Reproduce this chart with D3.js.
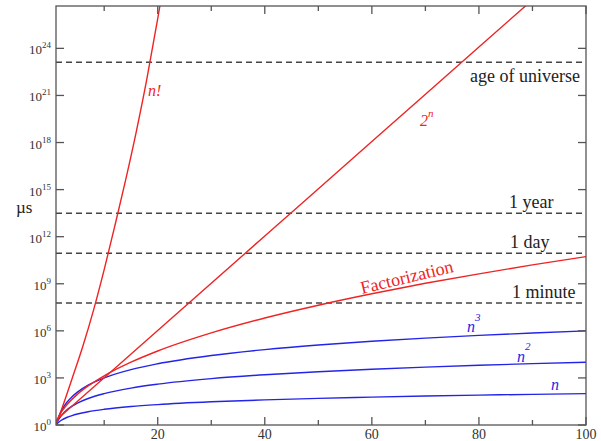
<!DOCTYPE html>
<html>
<head>
<meta charset="utf-8">
<script src="https://cdn.jsdelivr.net/npm/d3@7"></script>
<style>
    body { margin: 0; background: #fff; }
    svg { display: block; }
    svg text { font-family: "Liberation Serif", "Times New Roman", Times, "DejaVu Serif", serif; }
</style>
</head>
<body>
<svg id="chart" width="601" height="441"></svg>
<script>
// polynomial curves (n, n^2, n^3)
var polyX = [1, 1.2, 1.5, 2, 3, 4, 5, 7, 10, 15, 20, 30, 40, 50, 60, 70, 80, 90, 100];
var linearVal = [1, 1.2, 1.5, 2, 3, 4, 5, 7, 10, 15, 20, 30, 40, 50, 60, 70, 80, 90, 100];
var squareVal = [1, 1.44, 2.25, 4, 9, 16, 25, 49, 100, 225, 400, 900, 1600, 2500, 3600, 4900, 6400, 8100, 10000];
var cubeVal = [1, 1.728, 3.375, 8, 27, 64, 125, 343, 1000, 3375, 8000, 27000, 64000, 125000, 216000, 343000, 512000, 729000, 1000000];

// factorization (sub-exponential)
var factorX = [1, 1.2, 1.5, 2, 3, 5, 7, 10, 15, 20, 30, 40, 50, 60, 70, 80, 90, 100];
var factorVal = [1, 1.93, 3.3, 6.7, 19, 91, 310, 1370, 1.0e4, 5.2e4, 7.4e5, 6.6e6, 4.3e7, 2.3e8, 1.07e9, 4.3e9, 1.6e10, 5.4e10];

// 2^n
var expX = [1, 10, 20, 40, 60, 80, 90];
var expVal = [2, 1024, 1.05e6, 1.1e12, 1.15e18, 1.21e24, 1.24e27];

// n!
var factX = [1, 2, 4, 6, 8, 10, 12, 14, 16, 18, 20, 21];
var factVal = [1, 8.9, 890, 1e5, 2e7, 7.9e9, 5e12, 4e15, 5e18, 1.26e22, 7.9e25, 7.9e27];

// time limits (µs)
var limitNames = ['1 minute', '1 day', '1 year', 'age of universe'];
var limitVal = [6e7, 8.64e10, 3.15e13, 1.3e23];

var xTicks = [20, 40, 60, 80, 100];
var xMinor = [10, 30, 50, 70, 90];
var yExps = [0, 3, 6, 9, 12, 15, 18, 21, 24];

var RED = '#ee2424', BLUE = '#2424e8';

var W = 601, H = 441;
var m = { left: 56, right: 15, top: 6, bottom: 16 };
var svg = d3.select('#chart');

var x = d3.scaleLinear().domain([1, 100]).range([m.left, W - m.right]);
var y = d3.scaleLog().domain([1, Math.pow(10, 26.7)]).range([H - m.bottom, m.top]);

svg.append('clipPath').attr('id', 'plot')
    .append('rect')
    .attr('x', m.left).attr('y', m.top)
    .attr('width', W - m.left - m.right).attr('height', H - m.top - m.bottom);

var g = svg.append('g').attr('clip-path', 'url(#plot)');

// dashed time limits
g.selectAll('line.limit').data(limitVal).join('line')
    .attr('class', 'limit')
    .attr('x1', m.left).attr('x2', W - m.right)
    .attr('y1', function (d) { return y(d); })
    .attr('y2', function (d) { return y(d); })
    .attr('stroke', '#444')
    .attr('stroke-width', 1.5)
    .attr('stroke-dasharray', '6,4');

function series(xs, vs) {
    return xs.map(function (v, i) { return [v, vs[i]]; });
}

var line = d3.line()
    .x(function (d) { return x(d[0]); })
    .y(function (d) { return y(d[1]); })
    .curve(d3.curveMonotoneX);

var curves = [
    { pts: series(polyX, linearVal), color: BLUE },
    { pts: series(polyX, squareVal), color: BLUE },
    { pts: series(polyX, cubeVal), color: BLUE },
    { pts: series(factorX, factorVal), color: RED },
    { pts: series(expX, expVal), color: RED },
    { pts: series(factX, factVal), color: RED }
];

g.selectAll('path.curve').data(curves).join('path')
    .attr('class', 'curve')
    .attr('d', function (d) { return line(d.pts); })
    .attr('fill', 'none')
    .attr('stroke', function (d) { return d.color; })
    .attr('stroke-width', 1.4);

// frame + ticks
var axG = svg.append('g').attr('stroke', '#555').attr('stroke-width', 1.3);
axG.append('rect')
    .attr('x', m.left).attr('y', m.top)
    .attr('width', W - m.left - m.right).attr('height', H - m.top - m.bottom)
    .attr('fill', 'none');

function xTickLines(vals, len) {
    vals.forEach(function (v) {
        axG.append('line').attr('x1', x(v)).attr('x2', x(v))
            .attr('y1', H - m.bottom).attr('y2', H - m.bottom - len);
        axG.append('line').attr('x1', x(v)).attr('x2', x(v))
            .attr('y1', m.top).attr('y2', m.top + len);
    });
}
xTickLines(xTicks, 8);
xTickLines(xMinor, 5);

yExps.forEach(function (e) {
    var yy = y(Math.pow(10, e));
    axG.append('line').attr('x1', m.left).attr('x2', m.left + 8).attr('y1', yy).attr('y2', yy);
    axG.append('line').attr('x1', W - m.right).attr('x2', W - m.right - 8).attr('y1', yy).attr('y2', yy);
});

// x tick labels
svg.append('g').selectAll('text').data(xTicks).join('text')
    .attr('x', function (d) { return x(d); })
    .attr('y', H - 2)
    .attr('text-anchor', 'middle')
    .attr('font-size', 14)
    .attr('fill', '#333')
    .text(function (d) { return d; });

// y tick labels 10^k
var yl = svg.append('g').selectAll('text').data(yExps).join('text')
    .attr('x', 51)
    .attr('y', function (d) { return y(Math.pow(10, d)) + 6; })
    .attr('text-anchor', 'end')
    .attr('font-size', 13)
    .attr('fill', '#333');
yl.append('tspan').text('10');
yl.append('tspan').attr('dy', -6).attr('font-size', 9).text(function (d) { return d; });

svg.append('text')
    .attr('x', 16).attr('y', 213)
    .attr('font-size', 17)
    .attr('fill', '#222')
    .text('µs');

// limit labels
var limitLabelX = [512, 510, 509, 470];
var labG = svg.append('g').attr('font-size', 18).attr('fill', '#222');
limitNames.forEach(function (name, i) {
    var yy = y(limitVal[i]);
    labG.append('text')
        .attr('x', limitLabelX[i])
        .attr('y', i === 3 ? yy + 20 : yy - 5)
        .text(name);
});

// curve labels
function supLabel(tx, ty, base, sup, color, upDy) {
    var t = svg.append('text')
        .attr('x', tx).attr('y', ty)
        .attr('font-size', 16)
        .attr('font-style', 'italic')
        .attr('fill', color);
    t.append('tspan').text(base);
    if (sup) t.append('tspan').attr('dy', upDy).attr('font-size', 11).text(sup);
}

supLabel(148, 96, 'n!', null, RED);
supLabel(420, 126, '2', 'n', RED, -9);
supLabel(467, 332, 'n', '3', BLUE, -11);
supLabel(517, 362, 'n', '2', BLUE, -12);
supLabel(551, 390, 'n', null, BLUE);

svg.append('text')
    .attr('transform', 'translate(' + 362 + ',' + 294 + ') rotate(-13.5)')
    .attr('font-size', 18)
    .attr('fill', RED)
    .text('Factorization');
</script>
</body>
</html>
